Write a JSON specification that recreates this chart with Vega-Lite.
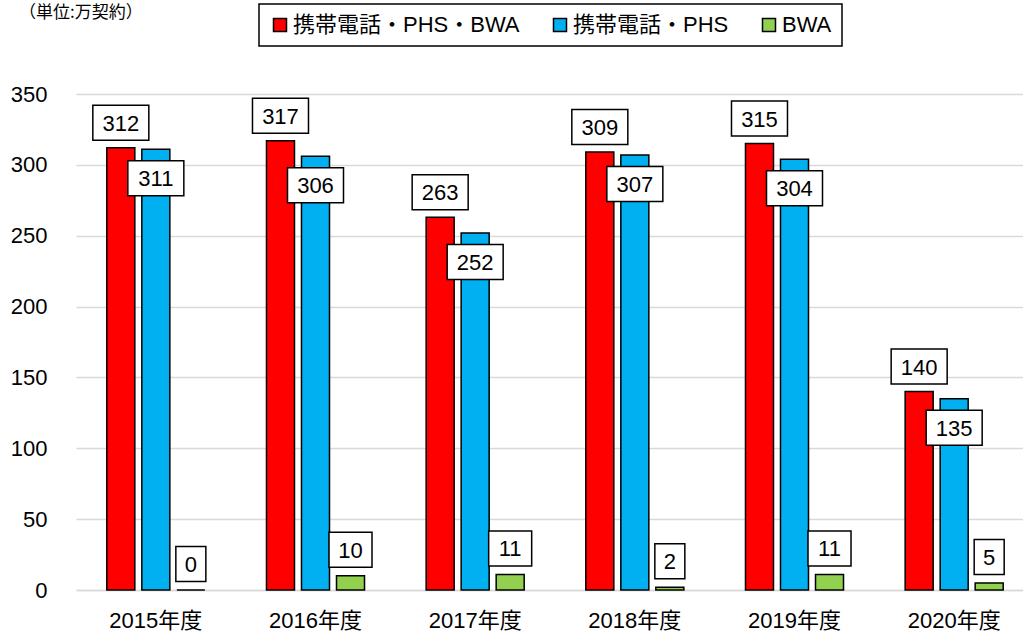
{
  "$schema": "https://vega.github.io/schema/vega-lite/v6.json",
  "autosize": "none",
  "padding": {"left": 76, "top": 94, "right": 0, "bottom": 47},
  "width": 947,
  "height": 496,
  "background": "white",
  "title": {
    "text": "（単位:万契約）",
    "anchor": "start",
    "frame": "group",
    "orient": "top",
    "baseline": "middle",
    "dx": -57,
    "dy": 27,
    "offset": 0,
    "limit": 400,
    "fontSize": 17,
    "fontWeight": "normal",
    "font": "Noto Sans CJK JP",
    "color": "black"
  },
  "data": {
    "values": [
      {"year": "2015年度", "series": "携帯電話・PHS・BWA", "v": 312},
      {"year": "2015年度", "series": "携帯電話・PHS", "v": 311},
      {"year": "2015年度", "series": "BWA", "v": 0},
      {"year": "2016年度", "series": "携帯電話・PHS・BWA", "v": 317},
      {"year": "2016年度", "series": "携帯電話・PHS", "v": 306},
      {"year": "2016年度", "series": "BWA", "v": 10},
      {"year": "2017年度", "series": "携帯電話・PHS・BWA", "v": 263},
      {"year": "2017年度", "series": "携帯電話・PHS", "v": 252},
      {"year": "2017年度", "series": "BWA", "v": 11},
      {"year": "2018年度", "series": "携帯電話・PHS・BWA", "v": 309},
      {"year": "2018年度", "series": "携帯電話・PHS", "v": 307},
      {"year": "2018年度", "series": "BWA", "v": 2},
      {"year": "2019年度", "series": "携帯電話・PHS・BWA", "v": 315},
      {"year": "2019年度", "series": "携帯電話・PHS", "v": 304},
      {"year": "2019年度", "series": "BWA", "v": 11},
      {"year": "2020年度", "series": "携帯電話・PHS・BWA", "v": 140},
      {"year": "2020年度", "series": "携帯電話・PHS", "v": 135},
      {"year": "2020年度", "series": "BWA", "v": 5}
    ]
  },
  "encoding": {
    "x": {
      "field": "year",
      "type": "nominal",
      "sort": null,
      "scale": {"range": [0, 958], "paddingInner": 0.386, "paddingOuter": 0.193},
      "axis": {
        "title": null,
        "labelAngle": 0,
        "labelFontSize": 22,
        "labelFont": "Liberation Sans, Noto Sans CJK JP",
        "labelColor": "black",
        "labelPadding": 20,
        "ticks": false,
        "domain": true,
        "domainColor": "#d9d9d9",
        "domainWidth": 1.5
      }
    },
    "xOffset": {
      "field": "series",
      "type": "nominal",
      "sort": null,
      "scale": {"domain": ["携帯電話・PHS・BWA", "携帯電話・PHS", "BWA"], "paddingInner": 0.2, "paddingOuter": 0}
    },
    "y": {
      "field": "v",
      "type": "quantitative",
      "scale": {"domain": [0, 350], "nice": false},
      "axis": {
        "title": null,
        "values": [0, 50, 100, 150, 200, 250, 300, 350],
        "labelFontSize": 22,
        "labelFont": "Liberation Sans, Noto Sans CJK JP",
        "labelColor": "black",
        "labelPadding": 29,
        "ticks": false,
        "domain": false,
        "grid": true,
        "gridColor": "#d9d9d9",
        "gridWidth": 1.5
      }
    }
  },
  "layer": [
    {
      "mark": {"type": "bar", "stroke": "black", "strokeWidth": 1.5},
      "encoding": {
        "color": {
          "field": "series",
          "type": "nominal",
          "sort": null,
          "scale": {
            "domain": ["携帯電話・PHS・BWA", "携帯電話・PHS", "BWA"],
            "range": ["#ff0000", "#00b0f0", "#92d050"]
          },
          "legend": {
            "title": null,
            "orient": "none",
            "direction": "horizontal",
            "legendX": 183,
            "legendY": -90,
            "symbolType": "square",
            "symbolSize": 169,
            "symbolStrokeColor": "black",
            "symbolStrokeWidth": 1.5,
            "symbolOpacity": 1,
            "labelFontSize": 22,
            "labelFont": "Liberation Sans, Noto Sans CJK JP",
            "labelColor": "black",
            "labelOffset": 2,
            "labelLimit": 400,
            "columnPadding": 29,
            "padding": 10,
            "strokeColor": "black",
            "fillColor": "white"
          }
        }
      }
    },
    {
      "transform": [{"filter": "datum.series === '携帯電話・PHS・BWA'"}],
      "mark": {"type": "point", "filled": true, "fill": "white", "stroke": "black", "strokeWidth": 1.5, "opacity": 1, "yOffset": -25, "shape": "M-1,-0.625H1V0.625H-1Z", "size": 3136}
    },
    {
      "transform": [{"filter": "datum.series === '携帯電話・PHS・BWA'"}],
      "mark": {"type": "text", "fontSize": 22, "font": "Liberation Sans", "color": "black", "baseline": "middle", "align": "center", "yOffset": -24},
      "encoding": {"text": {"field": "v", "type": "quantitative"}}
    },
    {
      "transform": [{"filter": "datum.series === '携帯電話・PHS'"}],
      "mark": {"type": "point", "filled": true, "fill": "white", "stroke": "black", "strokeWidth": 1.5, "opacity": 1, "yOffset": 29, "shape": "M-1,-0.625H1V0.625H-1Z", "size": 3136}
    },
    {
      "transform": [{"filter": "datum.series === '携帯電話・PHS'"}],
      "mark": {"type": "text", "fontSize": 22, "font": "Liberation Sans", "color": "black", "baseline": "middle", "align": "center", "yOffset": 30},
      "encoding": {"text": {"field": "v", "type": "quantitative"}}
    },
    {
      "transform": [{"filter": "datum.series === 'BWA'"}],
      "mark": {"type": "point", "filled": true, "fill": "white", "stroke": "black", "strokeWidth": 1.5, "opacity": 1, "yOffset": -26},
      "encoding": {
        "shape": {"condition": {"test": "datum.v < 10", "value": "M-1,-1.167H1V1.167H-1Z"}, "value": "M-1,-0.814H1V0.814H-1Z"},
        "size": {"condition": {"test": "datum.v < 10", "value": 900}, "value": 1849}
      }
    },
    {
      "transform": [{"filter": "datum.series === 'BWA'"}],
      "mark": {"type": "text", "fontSize": 22, "font": "Liberation Sans", "color": "black", "baseline": "middle", "align": "center", "yOffset": -25},
      "encoding": {"text": {"field": "v", "type": "quantitative"}}
    }
  ],
  "config": {
    "view": {"stroke": null},
    "legend": {"strokeWidth": 1.5}
  }
}
